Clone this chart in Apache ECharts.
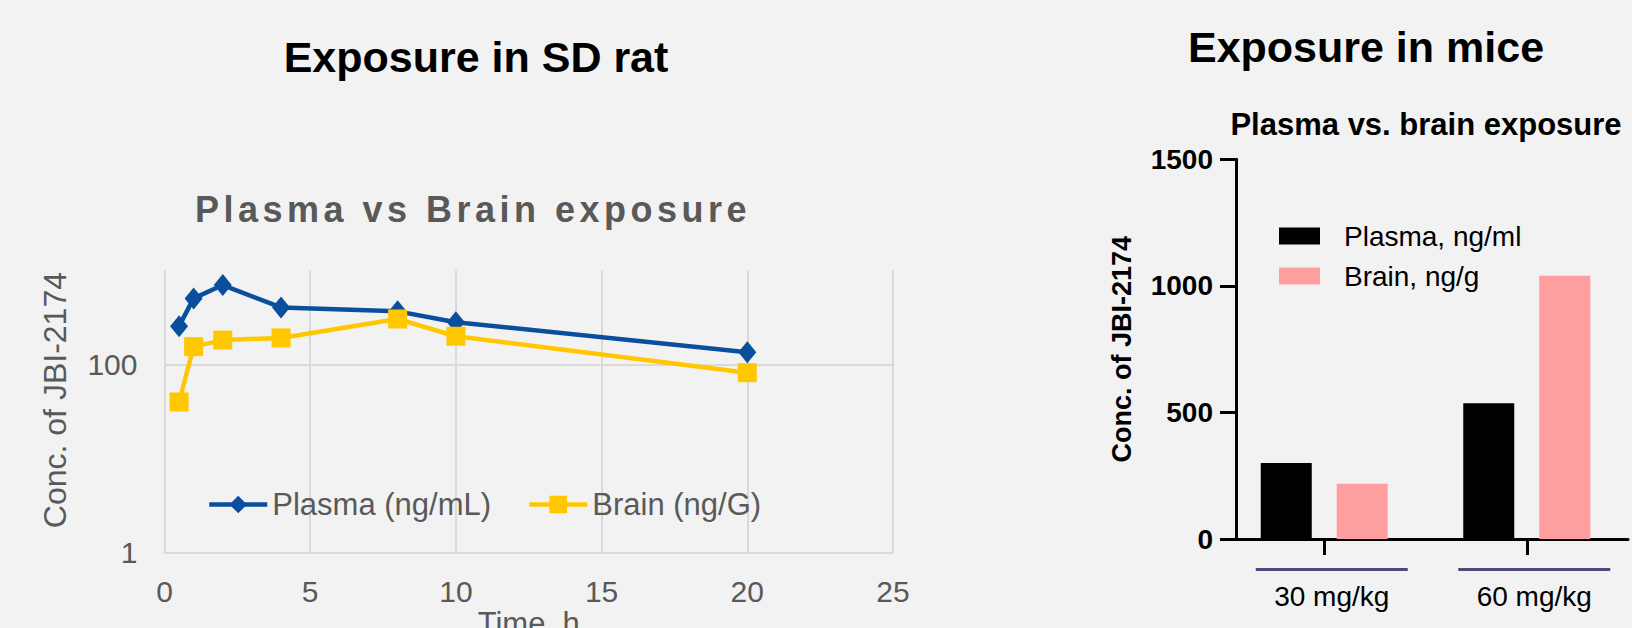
<!DOCTYPE html>
<html><head><meta charset="utf-8">
<script src="https://cdn.jsdelivr.net/npm/echarts@6/dist/echarts.min.js"></script>
<style>html,body{margin:0;padding:0;background:#f2f2f2}#c{width:1632px;height:628px}</style>
</head><body><div id="c"></div>
<script>
// ---- data ----
const timeH = [0.5, 1, 2, 4, 8, 10, 20];
const plasmaRat = [256, 505, 700, 405, 368, 282, 135];
const brainRat = [40, 155, 182, 192, 305, 200, 82];
const doseGroups = ['30 mg/kg', '60 mg/kg'];
const plasmaMice = [300, 536];
const brainMice = [218, 1040];
const ratYTicks = ['1', '100'];

const FONT = '"Liberation Sans", Arial, sans-serif';
const GRAY = '#595959';
const chart = echarts.init(document.getElementById('c'), null, {renderer: 'svg', width: 1632, height: 628});

chart.setOption({
  backgroundColor: '#f2f2f2',
  animation: false,
  textStyle: {fontFamily: FONT},
  title: [
    {text: 'Exposure in SD rat', left: 476, top: 35, textAlign: 'center', padding: 0,
     textStyle: {fontFamily: FONT, fontSize: 43, fontWeight: 'bold', color: '#000'}},
    {text: 'Plasma vs Brain exposure', left: 473, top: 191, textAlign: 'center', padding: 0,
     textStyle: {fontFamily: FONT, fontSize: 36, fontWeight: 'bold', color: GRAY}},
    {text: 'Exposure in mice', left: 1366, top: 25, textAlign: 'center', padding: 0,
     textStyle: {fontFamily: FONT, fontSize: 43, fontWeight: 'bold', color: '#000'}},
    {text: 'Plasma vs. brain exposure', left: 1426, top: 109, textAlign: 'center', padding: 0,
     textStyle: {fontFamily: FONT, fontSize: 31, fontWeight: 'bold', color: '#000'}}
  ],
  legend: [
    {data: ['Plasma (ng/mL)', 'Brain (ng/G)'], left: 207, top: 489,
     itemWidth: 58, itemHeight: 22, itemGap: 36, padding: 0,
     lineStyle: {width: 4.5},
     textStyle: {fontFamily: FONT, fontSize: 31, color: GRAY}},
    {data: ['Plasma, ng/ml', 'Brain, ng/g'], orient: 'vertical', left: 1279, top: 222,
     itemWidth: 41, itemHeight: 17, itemGap: 12, padding: 0, icon: 'rect',
     textStyle: {fontFamily: FONT, fontSize: 28, color: '#000', padding: [0, 0, 0, 19]}}
  ],
  grid: [
    {left: 164.5, top: 270.5, width: 728.5, height: 282.2, containLabel: false, outerBoundsMode: 'none'},
    {left: 1223, top: 159.3, width: 405, height: 379.7, containLabel: false, outerBoundsMode: 'none'}
  ],
  xAxis: [
    {gridIndex: 0, type: 'value', min: 0, max: 25, interval: 5,
     name: 'Time, h', nameLocation: 'middle', nameGap: 46,
     nameTextStyle: {fontFamily: FONT, fontSize: 31, color: GRAY},
     axisLine: {show: true, lineStyle: {color: '#d9d9d9', width: 2}},
     axisTick: {show: false},
     axisLabel: {fontFamily: FONT, fontSize: 30, color: GRAY, margin: 24},
     splitLine: {show: true, lineStyle: {color: '#d9d9d9', width: 2}}},
    {gridIndex: 1, type: 'category', data: doseGroups, boundaryGap: true,
     axisLine: {show: true, lineStyle: {color: '#000', width: 3}},
     axisTick: {show: true, alignWithLabel: true, length: 16, lineStyle: {color: '#000', width: 3}},
     axisLabel: {margin: 29, padding: [0, 0, 0, 15],
       formatter: v => '{ln|}\n{t|' + v + '}',
       rich: {
         ln: {width: 152, height: 3, lineHeight: 3, backgroundColor: '#4b4b7b'},
         t: {fontFamily: FONT, fontSize: 28, color: '#000', lineHeight: 50}
       }},
     splitLine: {show: false}}
  ],
  yAxis: [
    {gridIndex: 0, type: 'log', logBase: 10, min: 1, max: 1000, interval: 2,
     name: 'Conc. of JBI-2174', nameLocation: 'middle', nameGap: 94,
     nameTextStyle: {fontFamily: FONT, fontSize: 32, color: GRAY, padding: [0, 0, 0, 23]},
     axisLine: {show: false}, axisTick: {show: false},
     axisLabel: {fontFamily: FONT, fontSize: 30, color: GRAY, margin: 27, showMaxLabel: false,
       formatter: v => ratYTicks.indexOf(String(v)) >= 0 ? String(v) : ''},
     splitLine: {show: true, lineStyle: {color: ['#d9d9d9', '#d9d9d9', 'rgba(0,0,0,0)'], width: 2}}},
    {gridIndex: 1, type: 'value', min: 0, max: 1500, interval: 500, offset: -13,
     name: 'Conc. of JBI-2174', nameLocation: 'middle', nameGap: 101,
     nameTextStyle: {fontFamily: FONT, fontSize: 27, fontWeight: 'bold', color: '#000'},
     axisLine: {show: true, lineStyle: {color: '#000', width: 3}},
     axisTick: {show: true, length: 16, lineStyle: {color: '#000', width: 3}},
     axisLabel: {fontFamily: FONT, fontSize: 28, fontWeight: 'bold', color: '#000', margin: 23,
       formatter: v => String(v)},
     splitLine: {show: false}}
  ],
  series: [
    {name: 'Plasma (ng/mL)', type: 'line', xAxisIndex: 0, yAxisIndex: 0,
     data: timeH.map((t, i) => [t, plasmaRat[i]]),
     symbol: 'diamond', symbolSize: [18, 22],
     lineStyle: {color: '#0a4f9e', width: 4.5}, itemStyle: {color: '#0a4f9e'}},
    {name: 'Brain (ng/G)', type: 'line', xAxisIndex: 0, yAxisIndex: 0,
     data: timeH.map((t, i) => [t, brainRat[i]]),
     symbol: 'rect', symbolSize: 19,
     lineStyle: {color: '#ffc700', width: 4.5}, itemStyle: {color: '#ffc700'}},
    {name: 'Plasma, ng/ml', type: 'bar', xAxisIndex: 1, yAxisIndex: 1,
     data: plasmaMice, barWidth: 51, barGap: '49%', itemStyle: {color: '#000'}},
    {name: 'Brain, ng/g', type: 'bar', xAxisIndex: 1, yAxisIndex: 1,
     data: brainMice, barWidth: 51, barGap: '49%', itemStyle: {color: '#ff9e9e'}}
  ]
});

// letter spacing for the spaced-out subtitle of the left chart
document.querySelectorAll('#c text').forEach(el => {
  if (el.textContent === 'Plasma vs Brain exposure') {
    el.setAttribute('letter-spacing', '4.5px');
  }
});
</script>
</body></html>
